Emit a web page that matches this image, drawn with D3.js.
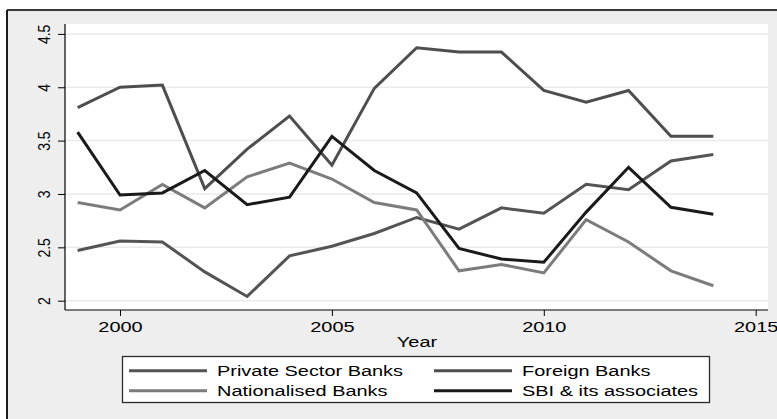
<!DOCTYPE html>
<html>
<head>
<meta charset="utf-8">
<script src="https://cdn.jsdelivr.net/npm/d3@7"></script>
<style>
body{margin:0;background:#fff;}
svg text{font-family:"Liberation Sans",Arial,sans-serif;fill:#000;}
</style>
</head>
<body>
<div id="chart"></div>
<script>
// data
var years=[1999,2000,2001,2002,2003,2004,2005,2006,2007,2008,2009,2010,2011,2012,2013,2014];
var privateBanks=[2.47,2.56,2.55,2.27,2.04,2.42,2.51,2.63,2.78,2.67,2.87,2.82,3.09,3.04,3.31,3.37];
var foreignBanks=[3.81,4.00,4.02,3.05,3.42,3.73,3.27,3.99,4.37,4.33,4.33,3.97,3.86,3.97,3.54,3.54];
var nationalBanks=[2.92,2.85,3.09,2.87,3.16,3.29,3.14,2.92,2.85,2.28,2.34,2.26,2.76,2.55,2.28,2.14];
var sbiBanks=[3.58,2.99,3.01,3.22,2.90,2.97,3.54,3.22,3.01,2.49,2.39,2.36,2.83,3.25,2.875,2.81];
var seriesNames=["Private Sector Banks","Foreign Banks","Nationalised Banks","SBI & its associates"];
var seriesColors=["#545454","#4e4e4e","#7c7c7c","#1a1a1a"];
var xTicks=[2000,2005,2010,2015];
var yTicks=[2,2.5,3,3.5,4,4.5];

var W=777,H=419;
var svg=d3.select("#chart").append("svg").attr("width",W).attr("height",H);

// outer frame
svg.append("rect").attr("x",7).attr("y",10).attr("width",W-7).attr("height",H-10).attr("fill","#eeeeee");
svg.append("line").attr("x1",7).attr("x2",W).attr("y1",10).attr("y2",10).attr("stroke","#3a3a3a").attr("stroke-width",2);
svg.append("line").attr("x1",7).attr("x2",7).attr("y1",10).attr("y2",H).attr("stroke","#1a1a1a").attr("stroke-width",2);

var plotL=65,plotR=768,plotT=24,plotB=310;
svg.append("rect").attr("x",plotL).attr("y",plotT).attr("width",plotR-plotL).attr("height",plotB-plotT).attr("fill","#fff");

var x=d3.scaleLinear().domain([2000,2015]).range([120,755.7]);
var y=d3.scaleLinear().domain([2,4.5]).range([300.7,33.9]);

// gridlines
svg.selectAll(".grid").data(yTicks).enter().append("line")
	.attr("x1",plotL).attr("x2",plotR)
	.attr("y1",function(d){return y(d);}).attr("y2",function(d){return y(d);})
	.attr("stroke","#eaeaea").attr("stroke-width",1.5);

// series lines
var allSeries=[privateBanks,foreignBanks,nationalBanks,sbiBanks];
var line=d3.line().x(function(d,i){return x(years[i]);}).y(function(d){return y(d);});
svg.selectAll(".series").data(allSeries).enter().append("path")
	.attr("d",line)
	.attr("fill","none")
	.attr("stroke",function(d,i){return seriesColors[i];})
	.attr("stroke-width",3)
	.attr("stroke-linejoin","miter");

// axes
var yAxis=svg.append("g").attr("transform","translate("+plotL+",0)")
	.call(d3.axisLeft(y).tickValues(yTicks).tickSize(7).tickFormat(function(d){return d3.format("")(d);}));
yAxis.select(".domain").attr("d","M0,"+plotT+"V"+plotB).attr("stroke","#000").attr("stroke-width",1.2);
yAxis.selectAll(".tick line").attr("stroke","#000");
yAxis.selectAll(".tick text")
	.attr("x",null).attr("dy",null)
	.attr("text-anchor","middle")
	.attr("transform","translate(-15,0) rotate(-90) scale(1,1.2)")
	.style("font-size","14px").style("font-family","Liberation Sans, Arial, sans-serif");

var xAxis=svg.append("g").attr("transform","translate(0,"+plotB+")")
	.call(d3.axisBottom(x).tickValues(xTicks).tickSize(6).tickFormat(d3.format("d")));
xAxis.select(".domain").attr("d","M"+plotL+",0H"+plotR).attr("stroke","#000").attr("stroke-width",1.2);
xAxis.selectAll(".tick line").attr("stroke","#000");
xAxis.selectAll(".tick text")
	.attr("y",null).attr("dy",null)
	.attr("transform","translate(0,22) scale(1.33,1)")
	.style("font-size","15px").style("font-family","Liberation Sans, Arial, sans-serif");

svg.append("text").attr("text-anchor","middle")
	.attr("transform","translate(417,346.5) scale(1.33,1)")
	.style("font-size","15px").text("Year");

// legend
var legend=svg.append("g");
legend.append("rect").attr("x",122.5).attr("y",356.5).attr("width",587).attr("height",46)
	.attr("fill","#fff").attr("stroke","#2a2a2a").attr("stroke-width",1.3);
var legX=[129,434],legY=[370.7,390.7];
var legItems=legend.selectAll(".leg").data(seriesNames).enter().append("g")
	.attr("transform",function(d,i){return "translate("+legX[i%2]+","+legY[Math.floor(i/2)]+")";});
legItems.append("line").attr("x1",0).attr("x2",78).attr("y1",0).attr("y2",0)
	.attr("stroke",function(d,i){return seriesColors[i];}).attr("stroke-width",3);
legItems.append("text")
	.attr("transform","translate(88,5.5) scale(1.33,1)")
	.style("font-size","15px").text(function(d){return d;});
</script>
</body>
</html>
